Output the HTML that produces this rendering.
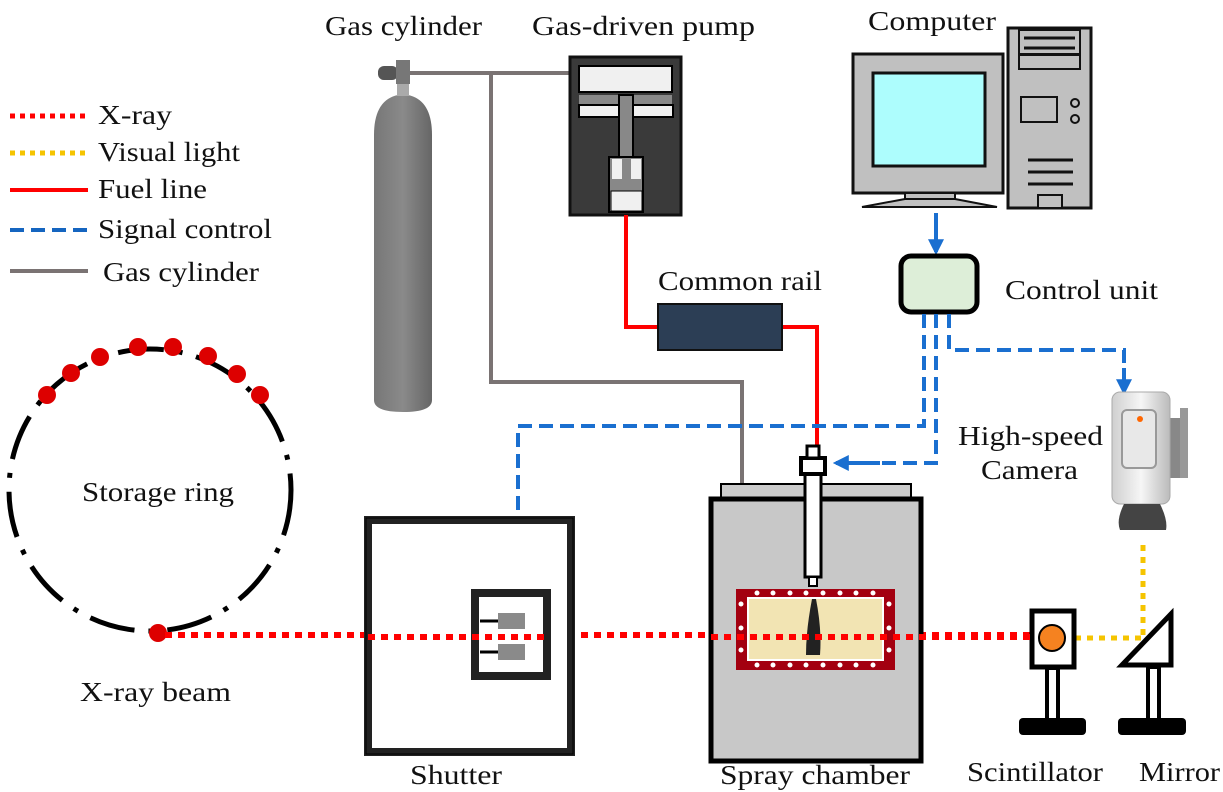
<!DOCTYPE html>
<html><head><meta charset="utf-8"><style>html,body{margin:0;padding:0;background:#fff}svg{display:block}text{font-family:"Liberation Serif",serif;font-size:27px;fill:#111}</style></head><body>
<svg width="1223" height="792" viewBox="0 0 1223 792" xmlns="http://www.w3.org/2000/svg">
<defs>
<marker id="ab" viewBox="0 0 10 10" refX="8" refY="5" markerWidth="4" markerHeight="4" orient="auto"><path d="M0,0L10,5L0,10z" fill="#1a6fd0"/></marker>
<linearGradient id="cyl" x1="0" x2="1"><stop offset="0" stop-color="#777"/><stop offset="0.5" stop-color="#8a8a8a"/><stop offset="1" stop-color="#666"/></linearGradient>
<linearGradient id="cam" x1="0" x2="1"><stop offset="0" stop-color="#cfcfcf"/><stop offset="0.5" stop-color="#f6f6f6"/><stop offset="1" stop-color="#bbb"/></linearGradient>
</defs>
<!-- legend -->
<line x1="10" y1="116" x2="88" y2="116" stroke="#f00" stroke-width="5" stroke-dasharray="5,5"/>
<text x="98" y="124" textLength="74" lengthAdjust="spacingAndGlyphs">X-ray</text>
<line x1="10" y1="153" x2="88" y2="153" stroke="#f5c400" stroke-width="5" stroke-dasharray="5,5"/>
<text x="98" y="161" textLength="142" lengthAdjust="spacingAndGlyphs">Visual light</text>
<line x1="10" y1="190" x2="88" y2="190" stroke="#f00" stroke-width="4"/>
<text x="98" y="198" textLength="109" lengthAdjust="spacingAndGlyphs">Fuel line</text>
<line x1="10" y1="230" x2="88" y2="230" stroke="#1565c0" stroke-width="4" stroke-dasharray="14,7"/>
<text x="98" y="238" textLength="174" lengthAdjust="spacingAndGlyphs">Signal control</text>
<line x1="10" y1="271" x2="88" y2="271" stroke="#7a7373" stroke-width="4"/>
<text x="103" y="281" textLength="156" lengthAdjust="spacingAndGlyphs">Gas cylinder</text>
<!-- storage ring -->
<circle cx="150" cy="490" r="141" fill="none" stroke="#000" stroke-width="5" stroke-dasharray="46,14,5,14"/>
<g fill="#d00">
<circle cx="47" cy="395" r="9"/><circle cx="71" cy="373" r="9"/><circle cx="100" cy="357" r="9"/><circle cx="138" cy="347" r="9"/><circle cx="173" cy="347" r="9"/><circle cx="208" cy="356" r="9"/><circle cx="237" cy="374" r="9"/><circle cx="260" cy="395" r="9"/><circle cx="158" cy="633" r="9"/></g>
<text x="82" y="501" textLength="152" lengthAdjust="spacingAndGlyphs">Storage ring</text>
<text x="80" y="701" textLength="151" lengthAdjust="spacingAndGlyphs">X-ray beam</text>
<!-- x-ray line -->
<line x1="165" y1="635" x2="1040" y2="635" stroke="#f00" stroke-width="6" stroke-dasharray="7,6"/>
<!-- gas cylinder -->
<path d="M374,135 Q374,100 398,95 L408,95 Q432,100 432,135 L432,400 Q432,412 403,412 Q374,412 374,400Z" fill="url(#cyl)"/>
<rect x="397" y="82" width="12" height="14" fill="#aaa"/>
<rect x="378" y="66" width="20" height="14" rx="6" fill="#555"/>
<rect x="396" y="60" width="14" height="24" fill="#777"/>
<line x1="410" y1="73" x2="572" y2="73" stroke="#7a7373" stroke-width="4"/>
<polyline points="491,73 491,382 742,382 742,485" fill="none" stroke="#7a7373" stroke-width="4"/>
<text x="325" y="35" textLength="157" lengthAdjust="spacingAndGlyphs">Gas cylinder</text>
<!-- pump -->
<rect x="570" y="57" width="111" height="158" fill="#3a3a3a" stroke="#111" stroke-width="3"/>
<rect x="579" y="66" width="93" height="26" fill="#f0f0f0" stroke="#000" stroke-width="2"/>
<rect x="579" y="95" width="93" height="10" fill="#888"/>
<rect x="579" y="105" width="40" height="12" fill="#f0f0f0" stroke="#000" stroke-width="2"/>
<rect x="633" y="105" width="40" height="12" fill="#f0f0f0" stroke="#000" stroke-width="2"/>
<rect x="619" y="95" width="14" height="105" fill="#888" stroke="#000" stroke-width="2"/>
<rect x="609" y="157" width="34" height="55" fill="#888" stroke="#000" stroke-width="2"/>
<rect x="612" y="159" width="10" height="20" fill="#f0f0f0"/><rect x="631" y="159" width="10" height="20" fill="#f0f0f0"/>
<rect x="611" y="191" width="31" height="20" fill="#f0f0f0" stroke="#000" stroke-width="1"/>
<text x="532" y="35" textLength="223" lengthAdjust="spacingAndGlyphs">Gas-driven pump</text>
<!-- fuel line -->
<polyline points="626,215 626,327 658,327" fill="none" stroke="#f00" stroke-width="4"/>
<polyline points="782,327 817,327 817,455" fill="none" stroke="#f00" stroke-width="4"/>
<rect x="658" y="304" width="124" height="46" fill="#2c3e55" stroke="#111" stroke-width="2"/>
<text x="658" y="290" textLength="164" lengthAdjust="spacingAndGlyphs">Common rail</text>
<!-- computer -->
<rect x="853" y="54" width="150" height="139" fill="#c0c0c0" stroke="#111" stroke-width="3"/>
<rect x="873" y="73" width="112" height="93" fill="#adfdfd" stroke="#111" stroke-width="3"/>
<rect x="905" y="193" width="50" height="6" fill="#c0c0c0" stroke="#111" stroke-width="2"/>
<path d="M862,207 L905,199 L955,199 L997,207Z" fill="#c0c0c0" stroke="#111" stroke-width="2"/>
<rect x="1008" y="28" width="83" height="180" fill="#c0c0c0" stroke="#111" stroke-width="3"/>
<rect x="1019" y="30" width="61" height="24" fill="#c0c0c0" stroke="#111" stroke-width="2"/>
<line x1="1024" y1="38" x2="1075" y2="38" stroke="#111" stroke-width="3"/><line x1="1024" y1="48" x2="1075" y2="48" stroke="#111" stroke-width="3"/>
<rect x="1019" y="55" width="61" height="14" fill="#c0c0c0" stroke="#111" stroke-width="2"/>
<rect x="1021" y="97" width="36" height="25" fill="#c0c0c0" stroke="#111" stroke-width="2"/>
<circle cx="1075" cy="103" r="4" fill="none" stroke="#111" stroke-width="2"/><circle cx="1075" cy="119" r="4" fill="none" stroke="#111" stroke-width="2"/>
<line x1="1028" y1="160" x2="1073" y2="160" stroke="#111" stroke-width="3"/><line x1="1028" y1="172" x2="1073" y2="172" stroke="#111" stroke-width="3"/><line x1="1028" y1="184" x2="1073" y2="184" stroke="#111" stroke-width="3"/>
<rect x="1038" y="195" width="24" height="13" fill="#c0c0c0" stroke="#111" stroke-width="2"/>
<text x="868" y="30" textLength="128" lengthAdjust="spacingAndGlyphs">Computer</text>
<!-- control unit -->
<line x1="936" y1="213" x2="936" y2="252" stroke="#1a6fd0" stroke-width="4" marker-end="url(#ab)"/>
<rect x="901" y="256" width="76" height="56" rx="10" fill="#ddeed8" stroke="#000" stroke-width="5"/>
<text x="1005" y="299" textLength="153" lengthAdjust="spacingAndGlyphs">Control unit</text>
<!-- signal lines -->
<g fill="none" stroke="#1a6fd0" stroke-width="4" stroke-dasharray="14,7">
<polyline points="924,314 924,426 518,426 518,575"/>
<polyline points="936,314 936,463 880,463"/>
<polyline points="949,314 949,350 1124,350 1124,380"/>
</g>
<line x1="518" y1="538" x2="518" y2="586" stroke="#1a6fd0" stroke-width="4" marker-end="url(#ab)"/>
<line x1="880" y1="463" x2="836" y2="463" stroke="#1a6fd0" stroke-width="4" marker-end="url(#ab)"/>
<line x1="1124" y1="368" x2="1124" y2="392" stroke="#1a6fd0" stroke-width="4" marker-end="url(#ab)"/>
<!-- camera -->
<rect x="1170" y="418" width="10" height="60" fill="#888"/>
<rect x="1180" y="408" width="8" height="70" fill="#999"/>
<rect x="1112" y="392" width="58" height="112" rx="8" fill="url(#cam)" stroke="#aaa"/>
<rect x="1122" y="410" width="34" height="58" rx="5" fill="#e8e8e8" stroke="#999" stroke-width="2"/>
<circle cx="1140" cy="419" r="3" fill="#f60"/>
<path d="M1124,504 L1160,504 Q1168,520 1166,530 L1120,530 Q1116,520 1124,504Z" fill="#444"/>
<text x="958" y="445" textLength="145" lengthAdjust="spacingAndGlyphs">High-speed</text>
<text x="981" y="479" textLength="97" lengthAdjust="spacingAndGlyphs">Camera</text>
<!-- yellow -->
<line x1="1143" y1="545" x2="1143" y2="637" stroke="#f5c400" stroke-width="5" stroke-dasharray="6,6"/>
<line x1="1075" y1="638" x2="1143" y2="638" stroke="#f5c400" stroke-width="5" stroke-dasharray="6,6"/>
<!-- scintillator -->
<rect x="1032" y="611" width="42" height="56" fill="#fff" stroke="#000" stroke-width="5"/>
<ellipse cx="1052" cy="638" rx="13" ry="13" fill="#f58220" stroke="#000" stroke-width="2"/>
<rect x="1047" y="668" width="11" height="52" fill="#fff" stroke="#000" stroke-width="4"/>
<rect x="1019" y="718" width="67" height="17" rx="4" fill="#000"/>
<text x="967" y="781" textLength="136" lengthAdjust="spacingAndGlyphs">Scintillator</text>
<!-- mirror -->
<path d="M1122,665 L1171,614 L1171,665Z" fill="#fff" stroke="#000" stroke-width="5"/>
<rect x="1148" y="667" width="11" height="53" fill="#fff" stroke="#000" stroke-width="4"/>
<rect x="1118" y="718" width="68" height="17" rx="4" fill="#000"/>
<text x="1139" y="781" textLength="81" lengthAdjust="spacingAndGlyphs">Mirror</text>
<!-- shutter -->
<rect x="368" y="520" width="203" height="232" fill="#fff" stroke="#222" stroke-width="8"/>
<rect x="366" y="518" width="207" height="236" fill="none" stroke="#000" stroke-width="1"/>
<rect x="475" y="593" width="72" height="83" fill="#fff" stroke="#222" stroke-width="8"/>
<rect x="498" y="613" width="27" height="16" fill="#8a8a8a"/><rect x="498" y="644" width="27" height="16" fill="#8a8a8a"/>
<line x1="480" y1="621" x2="498" y2="621" stroke="#000" stroke-width="3"/><line x1="480" y1="652" x2="498" y2="652" stroke="#000" stroke-width="3"/>
<line x1="368" y1="637" x2="545" y2="637" stroke="#f00" stroke-width="6" stroke-dasharray="7,6"/>
<text x="410" y="784" textLength="92" lengthAdjust="spacingAndGlyphs">Shutter</text>
<!-- spray chamber -->
<rect x="721" y="484" width="190" height="14" fill="#ccc" stroke="#000" stroke-width="2"/>
<rect x="711" y="499" width="210" height="262" fill="#c8c8c8" stroke="#000" stroke-width="5"/>
<rect x="736" y="589" width="159" height="81" fill="#a30010"/>
<rect x="748" y="598" width="135" height="62" fill="#f2e4b3" stroke="#fff" stroke-width="2"/>
<g fill="#fff"><circle cx="757" cy="593" r="2.5"/><circle cx="773" cy="593" r="2.5"/><circle cx="790" cy="593" r="2.5"/><circle cx="806" cy="593" r="2.5"/><circle cx="823" cy="593" r="2.5"/><circle cx="840" cy="593" r="2.5"/><circle cx="856" cy="593" r="2.5"/><circle cx="873" cy="593" r="2.5"/>
<circle cx="757" cy="665" r="2.5"/><circle cx="773" cy="665" r="2.5"/><circle cx="790" cy="665" r="2.5"/><circle cx="806" cy="665" r="2.5"/><circle cx="823" cy="665" r="2.5"/><circle cx="840" cy="665" r="2.5"/><circle cx="856" cy="665" r="2.5"/><circle cx="873" cy="665" r="2.5"/>
<circle cx="741" cy="604" r="2.5"/><circle cx="741" cy="628" r="2.5"/><circle cx="741" cy="650" r="2.5"/><circle cx="889" cy="604" r="2.5"/><circle cx="889" cy="628" r="2.5"/><circle cx="889" cy="650" r="2.5"/></g>
<path d="M812,599 L816,599 Q822,630 820,655 L806,655 Q806,630 812,599Z" fill="#222"/>
<line x1="711" y1="637" x2="1035" y2="637" stroke="#f00" stroke-width="6" stroke-dasharray="7,6"/>
<rect x="805" y="463" width="16" height="114" fill="#fff" stroke="#000" stroke-width="3"/>
<rect x="801" y="458" width="24" height="16" fill="#fff" stroke="#000" stroke-width="4"/>
<rect x="807" y="446" width="12" height="12" fill="#fff" stroke="#000" stroke-width="3"/>
<rect x="809" y="577" width="8" height="9" fill="#fff" stroke="#000" stroke-width="2"/>
<text x="720" y="784" textLength="190" lengthAdjust="spacingAndGlyphs">Spray chamber</text>
</svg>
</body></html>
